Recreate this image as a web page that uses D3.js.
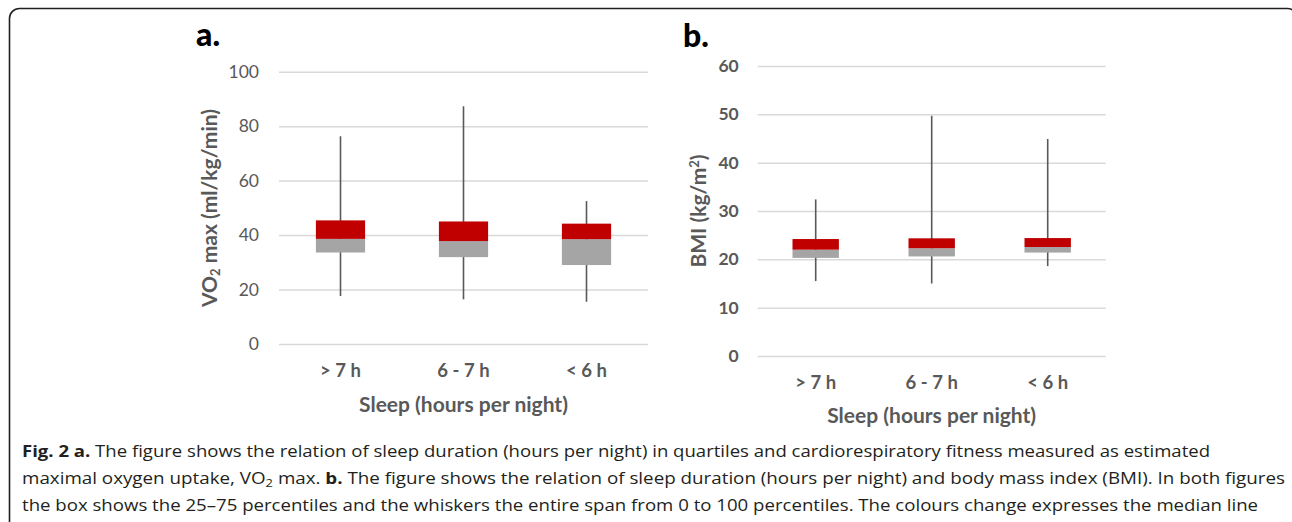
<!DOCTYPE html>
<html>
<head>
<meta charset="utf-8">
<script src="https://cdn.jsdelivr.net/npm/d3@7"></script>
<style>
  body { margin: 0; background: #fff; }
  svg { display: block; }
  .chart text { font-family: Lato, "Open Sans", sans-serif; fill: #595959; }
  .caption { font-family: "Open Sans", sans-serif; font-size: 16px; fill: #231f20; }
</style>
</head>
<body>
<svg id="drawing_region"></svg>
<script>
const categories = ['> 7 h', '6 - 7 h', '< 6 h'];

// a. VO2 max (ml/kg/min)
const vo2Min    = [17.6, 16.4, 15.5];
const vo2Q1     = [33.6, 31.9, 29.0];
const vo2Median = [38.6, 37.8, 38.5];
const vo2Q3     = [45.4, 45.0, 44.2];
const vo2Max    = [76.3, 87.3, 52.5];
const vo2Ticks  = [0, 20, 40, 60, 80, 100];

// b. BMI (kg/m2)
const bmiMin    = [15.5, 15.0, 18.6];
const bmiQ1     = [20.3, 20.6, 21.4];
const bmiMedian = [22.0, 22.3, 22.55];
const bmiQ3     = [24.2, 24.35, 24.4];
const bmiMax    = [32.4, 49.7, 44.9];
const bmiTicks  = [0, 10, 20, 30, 40, 50, 60];

const svg = d3.select('#drawing_region')
    .attr('width', 1292)
    .attr('height', 522);

// frame round the figure
svg.append('rect')
    .attr('x', 9.5).attr('y', 8.5)
    .attr('width', 1288).attr('height', 600)
    .attr('rx', 10)
    .attr('fill', 'none')
    .attr('stroke', '#231f20')
    .attr('stroke-width', 1.6);

class BoxChart {
    constructor(config, data) {
        this.config = config;
        this.data = data;
        this.init();
    }

    init() {
        let self = this;
        const c = self.config;

        self.chart = svg.append('g').attr('class', 'chart');

        self.xscale = d3.scaleBand()
            .domain(categories)
            .range([c.left, c.right]);

        self.yscale = d3.scaleLinear()
            .domain([0, d3.max(c.ticks)])
            .range([c.bottom, c.top]);

        self.yaxis = d3.axisLeft(self.yscale)
            .tickValues(c.ticks)
            .tickSize(-(c.right - c.left))
            .tickPadding(c.tickPadding);

        self.xaxis = d3.axisBottom(self.xscale)
            .tickSize(0);
    }

    render() {
        let self = this;
        const c = self.config;

        const yg = self.chart.append('g')
            .attr('transform', `translate(${c.left},0)`)
            .call(self.yaxis);
        yg.select('.domain').remove();
        yg.selectAll('.tick line')
            .attr('stroke', '#d9d9d9')
            .attr('stroke-width', 1.5);
        yg.selectAll('.tick text')
            .attr('font-size', 17.5)
            .attr('font-weight', c.tickBold ? 'bold' : 'normal')
            .attr('fill', '#595959');

        const xg = self.chart.append('g')
            .attr('transform', `translate(0,${c.bottom})`)
            .call(self.xaxis);
        xg.select('.domain').remove();
        xg.selectAll('.tick text')
            .attr('y', 27)
            .attr('dy', '0.35em')
            .attr('font-size', 18.5)
            .attr('font-weight', 'bold')
            .attr('fill', '#595959');

        const bw = self.xscale.bandwidth() * 0.4;
        const cx = d => self.xscale(d.cat) + self.xscale.bandwidth() / 2;

        self.chart.selectAll('.whisker')
            .data(self.data)
            .join('line')
            .attr('class', 'whisker')
            .attr('x1', cx).attr('x2', cx)
            .attr('y1', d => self.yscale(d.min))
            .attr('y2', d => self.yscale(d.max))
            .attr('stroke', '#595959')
            .attr('stroke-width', 1.6);

        self.chart.selectAll('.lower')
            .data(self.data)
            .join('rect')
            .attr('class', 'lower')
            .attr('x', d => cx(d) - bw / 2)
            .attr('width', bw)
            .attr('y', d => self.yscale(d.median))
            .attr('height', d => self.yscale(d.q1) - self.yscale(d.median))
            .attr('fill', '#a5a5a5');

        self.chart.selectAll('.upper')
            .data(self.data)
            .join('rect')
            .attr('class', 'upper')
            .attr('x', d => cx(d) - bw / 2)
            .attr('width', bw)
            .attr('y', d => self.yscale(d.q3))
            .attr('height', d => self.yscale(d.median) - self.yscale(d.q3))
            .attr('fill', '#c00000');

        // panel letter
        self.chart.append('text')
            .attr('x', c.letterX).attr('y', c.letterY)
            .attr('font-size', 32)
            .attr('font-weight', 900)
            .style('fill', '#000')
            .text(c.letter);

        // x title
        self.chart.append('text')
            .attr('x', (c.left + c.right) / 2)
            .attr('y', c.xTitleY)
            .attr('dy', '0.35em')
            .attr('text-anchor', 'middle')
            .attr('font-size', 21)
            .attr('font-weight', 'bold')
            .text('Sleep (hours per night)');

        // y title
        const yt = self.chart.append('text')
            .attr('transform', `translate(${c.yTitleX},${c.yTitleY}) rotate(-90)`)
            .attr('dy', '0.35em')
            .attr('text-anchor', 'middle')
            .attr('font-size', 21)
            .attr('font-weight', 'bold');
        c.yTitle.forEach(p => {
            const t = yt.append('tspan').text(p.t);
            if (p.shift) t.attr('baseline-shift', p.shift).attr('font-size', 13);
        });
    }
}

function rows(mn, q1, md, q3, mx) {
    return categories.map((cat, i) => ({cat: cat, min: mn[i], q1: q1[i], median: md[i], q3: q3[i], max: mx[i]}));
}

const chartA = new BoxChart({
    left: 279, right: 648, top: 71.7, bottom: 344,
    ticks: vo2Ticks, tickPadding: 20, tickBold: false,
    letter: 'a.', letterX: 196, letterY: 46,
    xTitleY: 405, yTitleX: 210, yTitleY: 208,
    yTitle: [{t: 'VO'}, {t: '2', shift: '-3'}, {t: ' max (ml/kg/min)'}]
}, rows(vo2Min, vo2Q1, vo2Median, vo2Q3, vo2Max));
chartA.render();

const chartB = new BoxChart({
    left: 757.7, right: 1105.7, top: 66, bottom: 356,
    ticks: bmiTicks, tickPadding: 19, tickBold: true,
    letter: 'b.', letterX: 683, letterY: 47,
    xTitleY: 416, yTitleX: 699, yTitleY: 211,
    yTitle: [{t: 'BMI (kg/m'}, {t: '2', shift: '7'}, {t: ')'}]
}, rows(bmiMin, bmiQ1, bmiMedian, bmiQ3, bmiMax));
chartB.render();

// caption
const caption = svg.append('g').attr('class', 'caption');
const capLines = [
    {y: 457, len: 1188, parts: [{t: 'Fig. 2 a.', b: true}, {t: ' The figure shows the relation of sleep duration (hours per night) in quartiles and cardiorespiratory fitness measured as estimated'}]},
    {y: 484, len: 1263, parts: [{t: 'maximal oxygen uptake, VO'}, {t: '2', sub: true}, {t: ' max. '}, {t: 'b.', b: true}, {t: ' The figure shows the relation of sleep duration (hours per night) and body mass index (BMI). In both figures'}]},
    {y: 511, len: 1236, parts: [{t: 'the box shows the 25\u201375 percentiles and the whiskers the entire span from 0 to 100 percentiles. The colours change expresses the median line'}]}
];
capLines.forEach(l => {
    const t = caption.append('text')
        .attr('x', 22).attr('y', l.y)
        .attr('textLength', l.len)
        .attr('lengthAdjust', 'spacingAndGlyphs');
    l.parts.forEach(p => {
        const s = t.append('tspan').text(p.t);
        if (p.b) s.attr('font-weight', 'bold');
        if (p.sub) s.attr('baseline-shift', '-3').attr('font-size', 11);
    });
});
</script>
</body>
</html>
